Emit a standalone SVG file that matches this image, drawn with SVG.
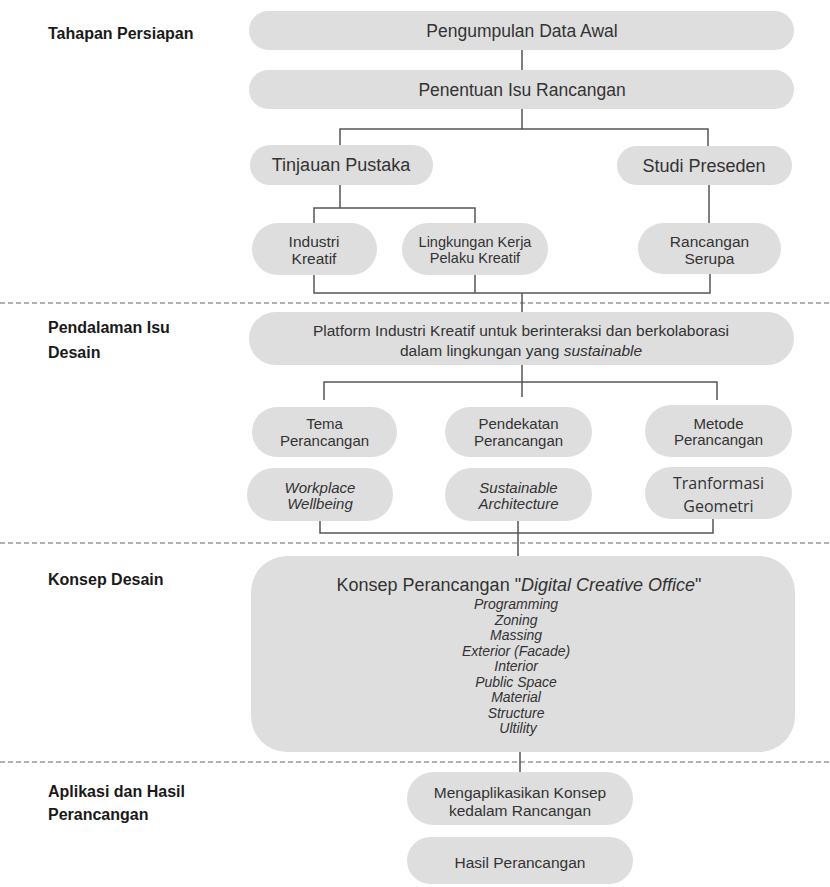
<svg xmlns="http://www.w3.org/2000/svg" width="830" height="887" viewBox="0 0 830 887">
<style>
.bg{fill:#ffffff}
.n{fill:#dedede}
.t{font-family:"Liberation Sans",Arial,sans-serif;fill:#333333;text-anchor:middle;dominant-baseline:central}
.i{font-style:italic}
.g{font-family:"Open Sans","Noto Sans",sans-serif;fill:#333333;text-anchor:middle;dominant-baseline:central}
.lab{font-family:"Liberation Sans",Arial,sans-serif;font-weight:bold;fill:#1a1a1a;font-size:16px;dominant-baseline:central}
.c{fill:none;stroke:#555555;stroke-width:1.5}
.d{fill:none;stroke:#666666;stroke-width:1.2;stroke-dasharray:5 3}
</style>
<rect class="bg" x="0" y="0" width="830" height="887"/>

<g id="dividers">
<line class="d" x1="0" y1="303" x2="830" y2="303"/>
<line class="d" x1="0" y1="543" x2="830" y2="543"/>
<line class="d" x1="0" y1="762" x2="830" y2="762"/>
</g>

<g id="labels">
<text class="lab" x="48" y="33">Tahapan Persiapan</text>
<text class="lab" x="48" y="327">Pendalaman Isu</text>
<text class="lab" x="48" y="352">Desain</text>
<text class="lab" x="48" y="579">Konsep Desain</text>
<text class="lab" x="48" y="791">Aplikasi dan Hasil</text>
<text class="lab" x="48" y="814">Perancangan</text>
</g>

<g id="connectors">
<path class="c" d="M522 50V70"/>
<path class="c" d="M522 109V129M340 145V129H708V146"/>
<path class="c" d="M340 185V208M314 223V208H475V223"/>
<path class="c" d="M709 185V223"/>
<path class="c" d="M314 275V293H710V274M475 275V293M522 293V312"/>
<path class="c" d="M522 365V382M324 400V382H717V400M522 382V397"/>
<path class="c" d="M320 521V533H713V519M518 521V557"/>
<path class="c" d="M520 752V772"/>
</g>

<g id="n1"><rect class="n" x="249" y="11" width="545" height="39" rx="19.5"/><text class="t" x="522" y="31" font-size="17.5">Pengumpulan Data Awal</text></g>
<g id="n2"><rect class="n" x="249" y="70" width="545" height="39" rx="19.5"/><text class="t" x="522" y="90" font-size="17.5">Penentuan Isu Rancangan</text></g>
<g id="n3"><rect class="n" x="250" y="145" width="183" height="40" rx="20"/><text class="t" x="341" y="165" font-size="18">Tinjauan Pustaka</text></g>
<g id="n4"><rect class="n" x="617" y="146" width="175" height="39" rx="19.5"/><text class="t" x="704" y="165.5" font-size="18">Studi Preseden</text></g>
<g id="n5"><rect class="n" x="252" y="223" width="125" height="52" rx="26"/><text class="t" font-size="15.5"><tspan x="314" y="241">Industri</tspan><tspan x="314" y="258">Kreatif</tspan></text></g>
<g id="n6"><rect class="n" x="402" y="223" width="146" height="52" rx="26"/><text class="t" font-size="14.5"><tspan x="475" y="241.5">Lingkungan Kerja</tspan><tspan x="475" y="257.5">Pelaku Kreatif</tspan></text></g>
<g id="n7"><rect class="n" x="638" y="223" width="143" height="51" rx="25.5"/><text class="t" font-size="15.5"><tspan x="709.5" y="241">Rancangan</tspan><tspan x="709.5" y="258">Serupa</tspan></text></g>
<g id="n8"><rect class="n" x="249" y="312" width="545" height="53" rx="26.5"/><text class="t" font-size="15.5"><tspan x="521" y="330">Platform Industri Kreatif  untuk berinteraksi dan berkolaborasi</tspan><tspan x="521" y="350">dalam lingkungan yang <tspan class="i">sustainable</tspan></tspan></text></g>
<g id="n9"><rect class="n" x="252" y="407" width="145" height="50" rx="25"/><text class="t" font-size="15"><tspan x="324.5" y="423">Tema</tspan><tspan x="324.5" y="440">Perancangan</tspan></text></g>
<g id="n10"><rect class="n" x="445" y="407" width="147" height="50" rx="25"/><text class="t" font-size="15"><tspan x="518.5" y="423">Pendekatan</tspan><tspan x="518.5" y="440">Perancangan</tspan></text></g>
<g id="n11"><rect class="n" x="645" y="405" width="147" height="52" rx="26"/><text class="t" font-size="15"><tspan x="718.5" y="423">Metode</tspan><tspan x="718.5" y="439">Perancangan</tspan></text></g>
<g id="n12"><rect class="n" x="247" y="468" width="146" height="53" rx="26.5"/><text class="t i" font-size="15"><tspan x="320" y="487">Workplace</tspan><tspan x="320" y="503">Wellbeing</tspan></text></g>
<g id="n13"><rect class="n" x="445" y="468" width="147" height="53" rx="26.5"/><text class="t i" font-size="15"><tspan x="518.5" y="487">Sustainable</tspan><tspan x="518.5" y="503">Architecture</tspan></text></g>
<g id="n14"><rect class="n" x="645" y="467" width="147" height="52" rx="26"/><text class="g" font-size="16"><tspan x="718.5" y="483">Tranformasi</tspan><tspan x="718.5" y="506">Geometri</tspan></text></g>
<g id="n15"><rect class="n" x="251" y="556" width="544" height="196" rx="36"/>
<text class="t" x="519" y="585" font-size="18">Konsep Perancangan "<tspan class="i">Digital Creative Office</tspan>"</text>
<text class="t i" font-size="14">
<tspan x="518" y="604">Programming</tspan>
<tspan x="518" y="619.5">Zoning</tspan>
<tspan x="518" y="635">Massing</tspan>
<tspan x="518" y="650.5">Exterior (Facade)</tspan>
<tspan x="518" y="666">Interior</tspan>
<tspan x="518" y="681.5">Public Space</tspan>
<tspan x="518" y="697">Material</tspan>
<tspan x="518" y="712.5">Structure</tspan>
<tspan x="518" y="728">Ultility</tspan>
</text></g>
<g id="n16"><rect class="n" x="407" y="772" width="226" height="53" rx="26.5"/><text class="t" font-size="15.5"><tspan x="520" y="792">Mengaplikasikan Konsep</tspan><tspan x="520" y="810">kedalam Rancangan</tspan></text></g>
<g id="n17"><rect class="n" x="407" y="837" width="226" height="47" rx="23.5"/><text class="t" x="520" y="862" font-size="15.5">Hasil Perancangan</text></g>
</svg>
